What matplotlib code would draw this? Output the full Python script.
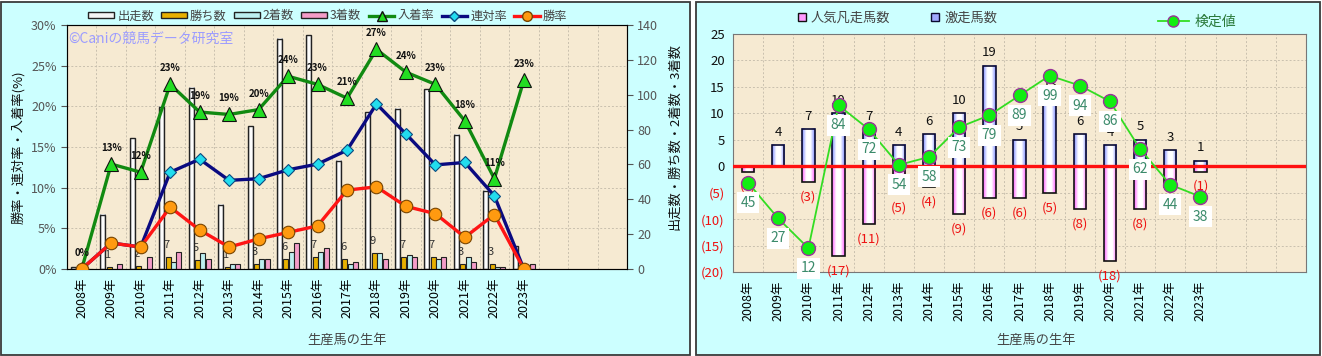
import matplotlib
matplotlib.use('Agg')
import matplotlib.pyplot as plt
import numpy as np
from matplotlib.colors import LinearSegmentedColormap
from matplotlib.patches import Rectangle, Patch
from matplotlib.lines import Line2D

plt.rcParams['font.family'] = ['Noto Sans CJK JP', 'DejaVu Sans']

# data
years = ['2008年', '2009年', '2010年', '2011年', '2012年', '2013年', '2014年', '2015年',
         '2016年', '2017年', '2018年', '2019年', '2020年', '2021年', '2022年', '2023年']
n_slots = 19

starts = [1, 31, 75, 93, 104, 37, 82, 132, 134, 62, 90, 92, 103, 77, 45, 13]
wins = [0, 1, 2, 7, 5, 1, 3, 6, 7, 6, 9, 7, 7, 3, 3, 0]
seconds = [0, 0, 0, 4, 9, 3, 6, 10, 10, 3, 9, 8, 6, 7, 1, 0]
thirds = [0, 3, 7, 10, 6, 3, 6, 15, 12, 4, 6, 7, 7, 4, 1, 3]

win_rate = [0, 3.2, 2.7, 7.6, 4.8, 2.7, 3.7, 4.5, 5.3, 9.7, 10.1, 7.7, 6.8, 3.9, 6.7, 0]
ren_rate = [0, 3.2, 2.7, 11.9, 13.5, 10.9, 11.1, 12.2, 12.9, 14.6, 20.3, 16.6, 12.8, 13.1, 9.0, 0]
fuku_rate = [0, 12.9, 11.9, 22.7, 19.3, 19.0, 19.6, 23.7, 22.7, 21.0, 27.0, 24.2, 22.7, 18.2, 11.1, 23.2]

gekiso = [0, 4, 7, 10, 7, 4, 6, 10, 19, 5, 13, 6, 4, 5, 3, 1]
bonso = [-1, 0, -3, -17, -11, -5, -4, -9, -6, -6, -5, -8, -18, -8, -4, -1]
kentei = [45, 27, 12, 84, 72, 54, 58, 73, 79, 89, 99, 94, 86, 62, 44, 38]

x = np.arange(len(years))
bg = '#F6EAD2'
gridc = '#C9C0AE'


def grad_bars(ax, xs, hs, w, c_side, c_mid, ec, z, lw=1.0):
    cmap = LinearSegmentedColormap.from_list('g', [c_side, c_mid, c_mid, c_side])
    grad = np.linspace(0, 1, 64).reshape(1, -1)
    for xi, h in zip(xs, hs):
        if h == 0:
            continue
        ax.imshow(grad, extent=[xi - w / 2, xi + w / 2, min(0, h), max(0, h)],
                  aspect='auto', cmap=cmap, zorder=z, interpolation='bilinear')
    ax.bar(xs, hs, w, facecolor='none', edgecolor=ec, linewidth=lw, zorder=z + 0.1)


fig = plt.figure(figsize=(13.22, 3.56), dpi=100)
fig.patch.set_facecolor('white')
fig.patches.append(Rectangle((0.0008, 0.004), 689 / 1322, 0.99, transform=fig.transFigure,
                             fc='#CCFFFF', ec='#3a3a3a', lw=1.3, zorder=-5))
fig.patches.append(Rectangle((696 / 1322, 0.004), 624 / 1322, 0.99, transform=fig.transFigure,
                             fc='#CCFFFF', ec='#3a3a3a', lw=1.3, zorder=-5))

# ---------------- left chart ----------------
axc = fig.add_axes([67 / 1322, 87 / 356, 560 / 1322, 244 / 356])
axc.set_facecolor(bg)
axc.set_xlim(-0.5, n_slots - 0.5)
axc.set_ylim(0, 140)
for b in np.arange(0.5, n_slots, 1):
    axc.axvline(b, color=gridc, ls=(0, (2, 2)), lw=0.7, zorder=0)
for p in [5, 10, 15, 20, 25]:
    axc.axhline(p * 140 / 30, color=gridc, ls=(0, (2, 2)), lw=0.7, zorder=0)

w = 0.17
grad_bars(axc, x - 0.29, starts, w, '#9A9A9A', '#FFFFFF', '#222222', 2)
axc.bar(x - 0.07, wins, w, color='#E8B000', edgecolor='#222222', lw=0.8, zorder=2)
axc.bar(x + 0.11, seconds, w, color='#BDEFF0', edgecolor='#222222', lw=0.8, zorder=2)
axc.bar(x + 0.29, thirds, w, color='#F49CC8', edgecolor='#222222', lw=0.8, zorder=2)
for xi, v in zip(x, wins):
    if v > 0:
        axc.annotate(str(v), (xi - 0.13, v), xytext=(0, 12), textcoords='offset pixels',
                     ha='center', va='center', fontsize=8, color='#333333', zorder=1.5)

axc.set_xticks(x)
axc.set_xticklabels(years, rotation=90, fontsize=9)
axc.tick_params(axis='x', length=0, pad=6)
for s in axc.spines.values():
    s.set_color('#555555')

axp = axc.twinx()
# twinx puts the host ticks on the left, so swap them here
axc.yaxis.tick_right()
axc.set_yticks(range(0, 141, 20))
axc.tick_params(axis='y', labelsize=9, labelcolor='#555555', length=4, color='#555555')
axp.yaxis.tick_left()
axp.set_ylim(0, 30)
axp.set_yticks(range(0, 31, 5))
axp.set_yticklabels([f'{v}%' for v in range(0, 31, 5)])
axp.tick_params(axis='y', labelsize=9, labelcolor='#555555', length=4, color='#555555')
axp.plot(x, fuku_rate, color='#118A11', lw=2.4, marker='^', ms=10, mfc='#22DD22',
         mec='#111111', mew=0.8, zorder=3)
axp.plot(x, ren_rate, color='#0A0A80', lw=2.4, marker='D', ms=6, mfc='#22DDEE',
         mec='#0A4A80', mew=0.8, zorder=4)
axp.plot(x, win_rate, color='#FF1515', lw=2.4, marker='o', ms=9, mfc='#FF9A10',
         mec='#774400', mew=0.8, zorder=5)
for xi, v in zip(x, fuku_rate):
    axp.annotate(f'{v:.0f}%', (xi, v), xytext=(0, 16), textcoords='offset pixels',
                 ha='center', va='center', fontsize=7, fontweight='bold', color='#111111')
axp.text(0.002, 0.943, '©Caniの競馬データ研究室', transform=axp.transAxes, fontsize=10,
         color='#9C9CFF', va='center', ha='left')

fig.text(18 / 1322, 1 - 147 / 356, '勝率・連対率・入着率(%)', rotation=90, ha='center',
         va='center', fontsize=9.5, color='#111111')
fig.text(675 / 1322, 1 - 137 / 356, '出走数・勝ち数・2着数・3着数', rotation=90, ha='center',
         va='center', fontsize=9.5, color='#111111')
fig.text(347 / 1322, 1 - 340 / 356, '生産馬の生年', ha='center', va='center', fontsize=9.5,
         color='#444444')

h_left = [
    Patch(facecolor='#F4F4F4', edgecolor='#222222', label='出走数'),
    Patch(facecolor='#E8B000', edgecolor='#222222', label='勝ち数'),
    Patch(facecolor='#BDEFF0', edgecolor='#222222', label='2着数'),
    Patch(facecolor='#F49CC8', edgecolor='#222222', label='3着数'),
    Line2D([], [], color='#118A11', lw=2.4, marker='^', ms=7, mfc='#22DD22', mec='#111111', label='入着率'),
    Line2D([], [], color='#0A0A80', lw=2.4, marker='D', ms=5, mfc='#22DDEE', mec='#0A4A80', label='連対率'),
    Line2D([], [], color='#FF1515', lw=2.4, marker='o', ms=7, mfc='#FF9A10', mec='#774400', label='勝率'),
]
leg = fig.legend(handles=h_left, ncol=7, loc='center', bbox_to_anchor=(328 / 1322, 1 - 16 / 356),
                 frameon=False, fontsize=8.8, handlelength=2.1, handleheight=0.45,
                 columnspacing=0.6, handletextpad=0.25)
for t in leg.get_texts():
    t.set_color('#444444')

# ---------------- right chart ----------------
axr = fig.add_axes([733 / 1322, 84 / 356, 573 / 1322, 238 / 356])
axr.set_facecolor(bg)
for b in np.arange(0.5, n_slots, 1):
    axr.axvline(b, color=gridc, ls=(0, (2, 2)), lw=0.7, zorder=0)
for v in range(-15, 25, 5):
    axr.axhline(v, color=gridc, ls=(0, (2, 2)), lw=0.7, zorder=0)

bw = 0.41
grad_bars(axr, x, gekiso, bw, '#7F8CFF', '#FFFFFF', '#0A0A30', 2, lw=1.2)
grad_bars(axr, x, bonso, bw, '#FF5CFF', '#FFFFFF', '#111111', 2, lw=1.2)
axr.axhline(0, color='#FF1010', lw=2.4, zorder=3)
axr.set_xlim(-0.5, n_slots - 0.5)
axr.set_ylim(-20, 25)
for xi, v in zip(x, gekiso):
    if v > 0:
        axr.annotate(str(v), (xi, v), xytext=(0, 13), textcoords='offset pixels',
                     ha='center', va='center', fontsize=9.5, color='#111111', zorder=4)
for xi, v in zip(x, bonso):
    if v < 0:
        axr.annotate(f'({-v})', (xi, v), xytext=(0, -15), textcoords='offset pixels',
                     ha='center', va='center', fontsize=9.5, color='#EE1111', zorder=4)

yt = list(range(-20, 26, 5))
axr.set_yticks(yt)
axr.set_yticklabels([str(v) if v >= 0 else f'({-v})' for v in yt])
for lab, v in zip(axr.get_yticklabels(), yt):
    lab.set_color('#111111' if v >= 0 else '#EE1111')
axr.tick_params(axis='y', labelsize=9.5, length=0, pad=6)
axr.set_xticks(x)
axr.set_xticklabels(years, rotation=90, fontsize=9)
axr.tick_params(axis='x', length=0, pad=6)
for s in axr.spines.values():
    s.set_color('#777777')

axk = axr.twinx()
axk.set_ylim(0, 120)
axk.set_yticks([])
axk.plot(x, kentei, color='#33DD22', lw=1.3, marker='o', ms=10, mfc='#11EE11',
         mec='#993399', mew=1.0, zorder=5)
for xi, v in zip(x, kentei):
    axk.annotate(str(v), (xi, v), xytext=(0, -20), textcoords='offset pixels',
                 ha='center', va='center', fontsize=10, color='#3A8A6A', zorder=6,
                 bbox=dict(boxstyle='square,pad=0.25', fc='white', ec='none'))
for s in axk.spines.values():
    s.set_visible(False)

fig.text(1036 / 1322, 1 - 340 / 356, '生産馬の生年', ha='center', va='center', fontsize=9.5,
         color='#444444')

h_right = [
    Line2D([], [], ls='none', marker='s', ms=6, mfc='#FF99FF', mec='#111111', label='人気凡走馬数'),
    Line2D([], [], ls='none', marker='s', ms=6, mfc='#9FA8FF', mec='#0A0A30', label='激走馬数'),
]
leg2 = fig.legend(handles=h_right, ncol=2, loc='center', bbox_to_anchor=(897 / 1322, 1 - 18 / 356),
                  frameon=False, fontsize=9.5, handlelength=0.8, handletextpad=0.3,
                  columnspacing=3.0)
for t in leg2.get_texts():
    t.set_color('#444444')
leg3 = fig.legend(handles=[Line2D([], [], color='#33DD22', lw=1.3, marker='o', ms=8, mfc='#11EE11',
                                  mec='#993399', label='検定値')],
                  loc='center', bbox_to_anchor=(1197 / 1322, 1 - 22 / 356), frameon=False,
                  fontsize=10, handlelength=2.2, handletextpad=0.4)
for t in leg3.get_texts():
    t.set_color('#2A7A3A')

fig.savefig('out.png', dpi=100)
plt.close()
